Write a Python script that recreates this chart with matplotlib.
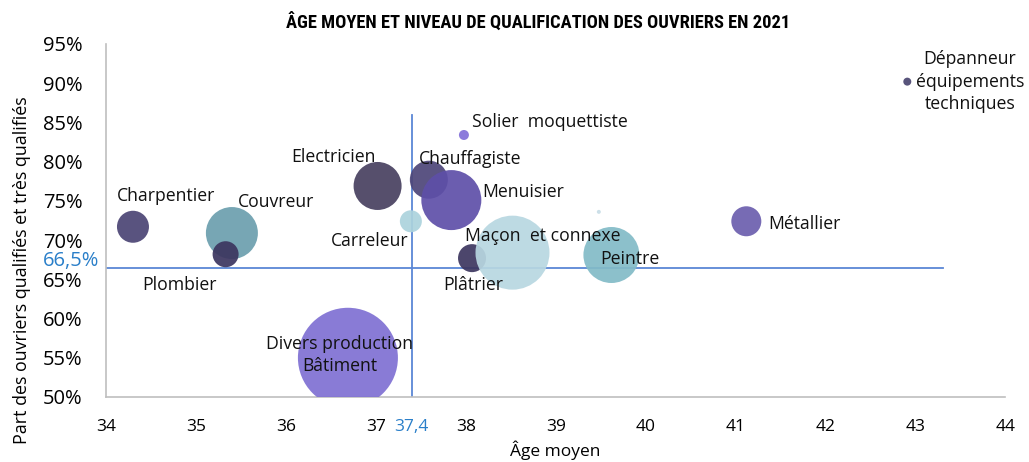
import numpy as np
import matplotlib.pyplot as plt
from matplotlib import font_manager

# données : métiers, âge moyen, part de qualifiés, taille des bulles
metiers = ['Charpentier', 'Couvreur', 'Plombier', 'Electricien', 'Chauffagiste',
           'Menuisier', 'Carreleur', 'Solier  moquettiste', 'Plâtrier',
           'Maçon  et connexe', '', 'Peintre', 'Métallier',
           'Dépanneur\néquipements\ntechniques', 'Divers production\nBâtiment']
age = [34.3, 35.4, 35.33, 37.02, 37.59, 37.84, 37.39, 37.98, 38.07,
       38.52, 39.48, 39.62, 41.12, 42.91, 36.69]
qualif = [71.7, 70.9, 68.2, 76.9, 77.7, 75.1, 72.4, 83.4, 67.7,
          68.4, 73.6, 68.1, 72.4, 90.2, 55.0]
rayon = [16, 26, 13, 24, 19, 30, 11, 5, 14, 37, 2, 28, 15, 4, 50]
couleurs = ['#4b4474', '#6b9fae', '#3c355f', '#474060', '#4d4578',
            '#5e4fa8', '#acd3dd', '#8270d8', '#3d3660',
            '#b8d7e1', '#c8dde6', '#82bbc7', '#6b5eae', '#4a4570', '#7f70d3']
# position des étiquettes (décalage en points)
decal = [(24, 22), (32, 22), (-33, -22), (-32, 21), (30, 15), (52, 6),
         (-30, -14), (62, 9), (1, -19), (22, 12), (0, 0), (13, -3),
         (42, -2), (45, 0), (-6, 2)]

moy_age = 37.4
moy_qualif = 66.5
bleu = '#2a7fc9'

noms = [f.name for f in font_manager.fontManager.ttflist]
police = 'Open Sans' if 'Open Sans' in noms else 'DejaVu Sans'
plt.rcParams['font.family'] = [police, 'DejaVu Sans']

# police étroite pour le titre
titre_fp = None
for fam in ['Roboto Condensed', 'Liberation Sans Narrow', 'Noto Sans', 'Roboto', 'DejaVu Sans']:
    if fam in noms:
        titre_fp = font_manager.FontProperties(family=fam, weight='heavy', stretch='condensed')
        break

fig = plt.figure(figsize=(10.29, 4.62), dpi=100)
ax = fig.add_axes([0.103, 0.1407, 0.874, 0.7641])

taille = [(1.44 * r) ** 2 for r in rayon]
for i in range(len(age)):
    ax.scatter(age[i], qualif[i], s=taille[i], color=couleurs[i],
               alpha=0.92, edgecolors='none', zorder=3)

for i in range(len(age)):
    if metiers[i]:
        ax.annotate(metiers[i], (age[i], qualif[i]), xytext=decal[i],
                    textcoords='offset points', ha='center', va='center',
                    fontsize=12.7, color='#111111', zorder=5,
                    linespacing=1.3)

# lignes des moyennes
ax.plot([34, 43.31], [moy_qualif, moy_qualif], color='#5b87d6', lw=1.3, zorder=2)
ax.plot([moy_age, moy_age], [50, 86], color='#5b87d6', lw=1.3, zorder=2)

ax.set_xlim(34, 44)
ax.set_ylim(50, 95)
xt = list(range(34, 45)) + [moy_age]
ax.set_xticks(xt)
ax.set_xticklabels([str(v) for v in range(34, 45)] + ['37,4'], fontsize=12.5)
ax.get_xticklabels()[-1].set_color(bleu)
ax.set_yticks(range(50, 96, 5))
ax.set_yticklabels([f'{v}%' for v in range(50, 96, 5)], fontsize=14.5)
ax.tick_params(axis='x', length=0, pad=16)
ax.tick_params(axis='y', length=0, pad=17)

# étiquette de la moyenne des qualifiés
ax.annotate('66,5%', (0, moy_qualif), xycoords=('axes fraction', 'data'),
            xytext=(-5, 5), textcoords='offset points', ha='right', va='center',
            fontsize=14.5, color=bleu, annotation_clip=False)

for s in ['top', 'right']:
    ax.spines[s].set_visible(False)
for s in ['left', 'bottom']:
    ax.spines[s].set_color('#bfbfbf')
    ax.spines[s].set_linewidth(1.2)

ax.set_xlabel('Âge moyen', fontsize=12.5, labelpad=4)
ax.set_ylabel('Part des ouvriers qualifiés et très qualifiés', fontsize=12.9)
ax.yaxis.set_label_coords(-0.083, 0.36)

titre = fig.text(0.523, 0.952, 'ÂGE MOYEN ET NIVEAU DE QUALIFICATION DES OUVRIERS EN 2021',
                 ha='center', va='center', fontproperties=titre_fp)
titre.set_fontsize(16)
# ajuster la taille du titre à la largeur voulue (~505 px)
fig.canvas.draw()
larg = titre.get_window_extent().width
titre.set_fontsize(min(17, 16 * 505 / larg))

fig.savefig('out.png', dpi=100)
